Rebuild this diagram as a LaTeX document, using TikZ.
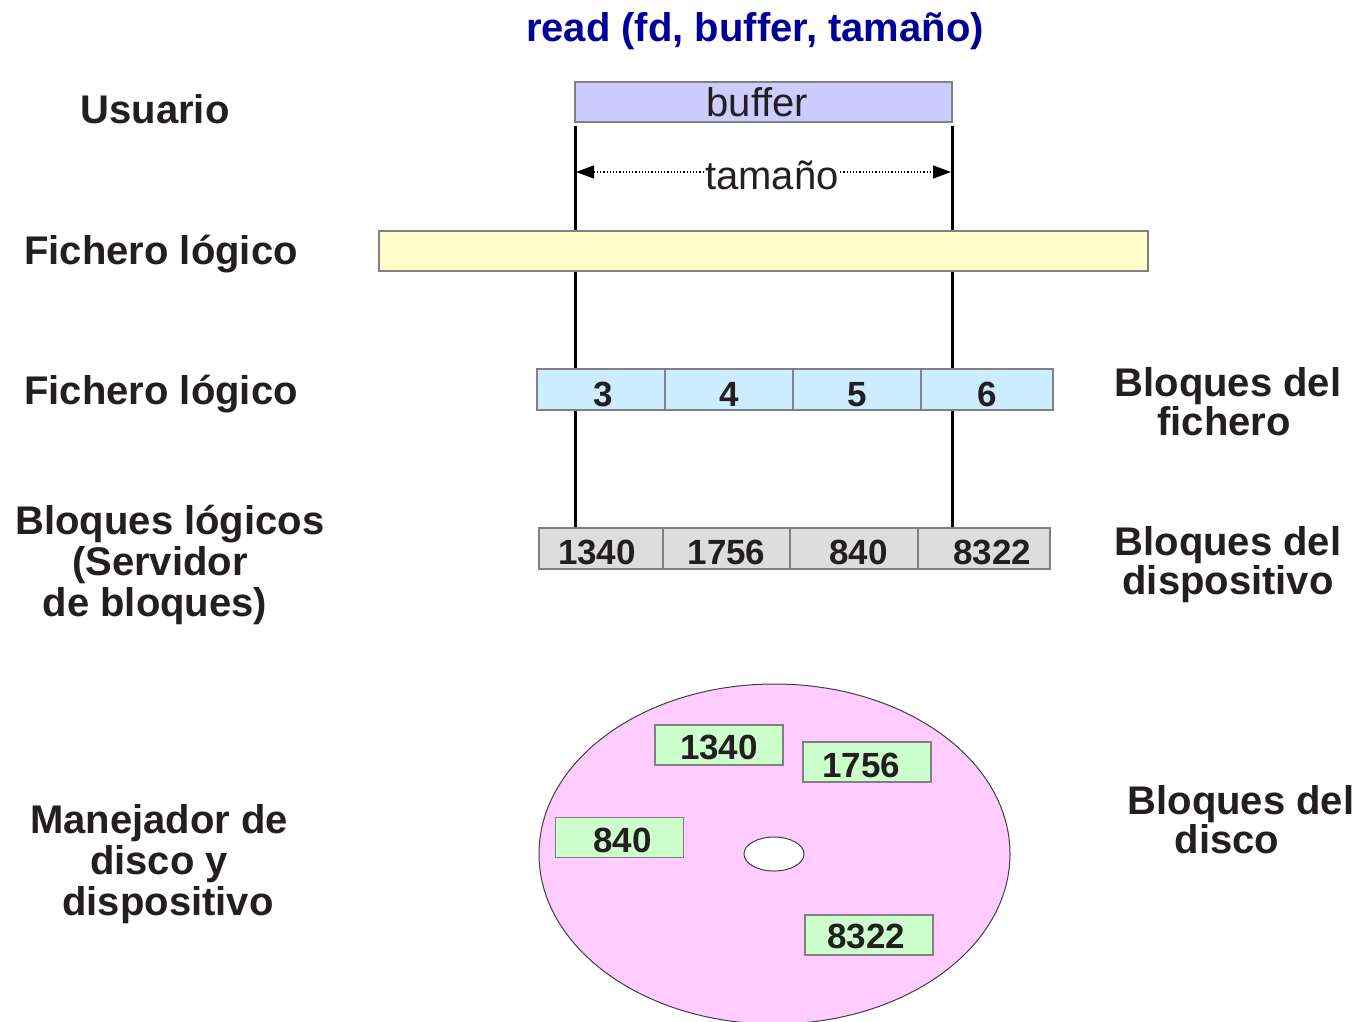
\documentclass[tikz,border=0pt]{standalone}
\usepackage{fontspec}
\setmainfont{Liberation Sans}
\usetikzlibrary{arrows.meta,shapes.geometric}
\definecolor{titleblue}{HTML}{000099}
\definecolor{bufcol}{HTML}{CCCCFF}
\definecolor{logcol}{HTML}{FFFFCC}
\definecolor{fblk}{HTML}{CCECFF}
\definecolor{dblk}{HTML}{DDDDDD}
\definecolor{diskcol}{HTML}{FFCCFF}
\definecolor{grn}{HTML}{CCFFCC}
\definecolor{edge}{HTML}{808080}
\definecolor{txt}{HTML}{231F20}
\newcommand{\mydn}[2][4pt]{\raisebox{-#1}{#2}}
\tikzset{
  lbl/.style={font=\fontsize{40}{41}\selectfont\bfseries, text=txt, align=center, inner sep=0},
  rlbl/.style={font=\fontsize{40}{39}\selectfont\bfseries, text=txt, align=center, inner sep=0},
  bar/.style={draw=edge, line width=1.2pt, inner sep=0, minimum height=41},
  cell/.style={draw=edge, line width=1.2pt, inner sep=0, minimum width=128, minimum height=41,
     text height=25, text depth=0,
     font=\fontsize{35}{36}\selectfont\bfseries, text=txt},
  gbox/.style={draw=edge, line width=1.2pt, fill=grn, inner sep=0, minimum width=128, minimum height=40,
     text height=25, text depth=0,
     font=\fontsize{35}{36}\selectfont\bfseries, text=txt},
  vline/.style={line width=3pt, black},
}
\begin{document}
\begin{tikzpicture}[x=1pt,y=-1pt]
\useasboundingbox[fill=white] (0,0) rectangle (1359,1021);

% title
\node[font=\fontsize{40}{42}\selectfont\bfseries, text=titleblue, inner sep=0] (title) at (755,31) {read (fd, buffer, tamaño)};

% left labels
\node[lbl] (usuario) at (155,109) {Usuario};
\node[lbl] (fl1) at (161,254) {Fichero lógico};
\node[lbl] (fl2) at (161,394) {Fichero lógico};
\node[lbl] (bl) at (170,565) {Bloques lógicos\\\hspace*{-20pt}(Servidor\\\hspace*{-30pt}de bloques)};
\node[lbl] (man) at (159,864) {Manejador de\\disco y\\\hspace*{18pt}dispositivo};

% right labels
\node[rlbl] (rf) at (1228,402) {Bloques del\\\hspace*{-8pt}fichero};
\node[rlbl] (rd) at (1228,565) {Bloques del\\dispositivo};
\node[rlbl] (rk) at (1241,820) {Bloques del\\\hspace*{-28pt}disco};

% vertical guide lines
\coordinate (l1) at (575,126);
\coordinate (r1) at (952,126);
\coordinate (l2) at (575,528);
\coordinate (r2) at (952,528);
\draw[vline] (l1) -- (l2);
\draw[vline] (r1) -- (r2);

% buffer
\node[bar, fill=bufcol, minimum width=377, minimum height=40, font=\fontsize{40}{42}\selectfont, text=txt] (buffer) at (763.5,102) {\hspace*{-12pt}buffer};

% tamaño arrow
\coordinate (ta) at (576,172);
\coordinate (tb) at (951,172);
\draw[dotted, line width=1.2pt, {Triangle[length=18pt,width=13pt]}-{Triangle[length=18pt,width=13pt]}] (ta) -- (tb);
\node[fill=white, inner xsep=1pt, inner ysep=0pt, font=\fontsize{40}{42}\selectfont, text=txt] (tam) at (772,175) {tamaño};

% logical file bar
\node[bar, fill=logcol, minimum width=769, minimum height=40] (logfile) at (763.5,251) {};

% file blocks
\node[cell, fill=fblk] (f3) at (601,389.5) {\mydn{\hspace*{4pt}3}};
\node[cell, fill=fblk] (f4) at (729,389.5) {\mydn{4}};
\node[cell, fill=fblk] (f5) at (857,389.5) {\mydn{5}};
\node[cell, fill=fblk, minimum width=132] (f6) at (987,389.5) {\mydn{6}};

% device blocks
\node[cell, fill=dblk, minimum width=124] (d1) at (601,548.5) {\mydn[3pt]{\hspace*{-8pt}1340}};
\node[cell, fill=dblk, minimum width=127] (d2) at (726.5,548.5) {\mydn[3pt]{1756}};
\node[cell, fill=dblk] (d3) at (854,548.5) {\mydn[3pt]{\hspace*{9pt}840}};
\node[cell, fill=dblk, minimum width=132] (d4) at (984,548.5) {\mydn[3pt]{\hspace*{16pt}8322}};

% disk
\node[draw=black!75, line width=1pt, fill=diskcol, ellipse, inner sep=0, minimum width=471, minimum height=340] (disk) at (774.5,854) {};
\node[draw=black!75, line width=1pt, fill=white, ellipse, inner sep=0, minimum width=60, minimum height=34] (hole) at (774,854) {};
\node[gbox] (g1340) at (719,745) {\mydn[2pt]{1340}};
\node[gbox] (g1756) at (867,762) {\mydn[3pt]{\hspace*{-12pt}1756}};
\node[gbox] (g840) at (619.5,837.5) {\mydn[2pt]{\hspace*{6pt}840}};
\node[gbox] (g8322) at (869,935) {\mydn[1pt]{\hspace*{-6pt}8322}};
\end{tikzpicture}
\end{document}
